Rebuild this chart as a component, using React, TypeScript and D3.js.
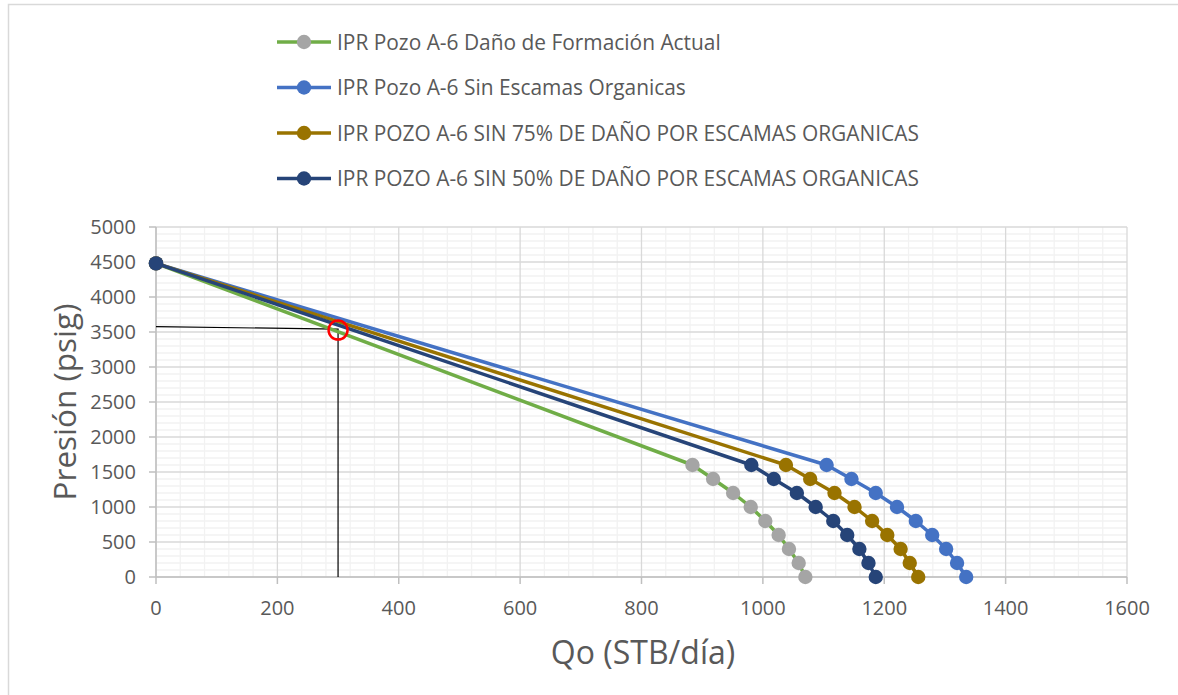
import React from "react";
import * as d3 from "d3";

// ---- data ----
const pressures = [4480, 1600, 1400, 1200, 1000, 800, 600, 400, 200, 0];
const qActual = [0, 884, 918, 951, 980, 1004, 1026, 1043, 1059, 1070];
const qSinEscamas = [0, 1105, 1146, 1186, 1221, 1252, 1279, 1302, 1320, 1335];
const qSin75 = [0, 1038, 1078, 1118, 1151, 1180, 1205, 1227, 1242, 1256];
const qSin50 = [0, 981, 1018, 1056, 1087, 1116, 1139, 1159, 1174, 1186];

const seriesNames = [
  "IPR Pozo A-6 Daño de Formación Actual",
  "IPR Pozo A-6 Sin Escamas Organicas",
  "IPR POZO A-6 SIN 75% DE DAÑO POR ESCAMAS ORGANICAS",
  "IPR POZO A-6 SIN 50% DE DAÑO POR ESCAMAS ORGANICAS",
];
const seriesQ = [qActual, qSinEscamas, qSin75, qSin50];
const lineColors = ["#70ad47", "#4472c4", "#997300", "#264478"];
const markerColors = ["#a5a5a5", "#4472c4", "#997300", "#264478"];

const xTicks = [0, 200, 400, 600, 800, 1000, 1200, 1400, 1600];
const yTicks = [0, 500, 1000, 1500, 2000, 2500, 3000, 3500, 4000, 4500, 5000];

// annotation: operating point
const refLineStart = [0, 3576];
const refPoint = [300, 3542];

const xLabel = "Qo (STB/día)";
const yLabel = "Presión (psig)";

export default function App() {
  const W = 1178;
  const H = 695;
  const left = 156;
  const right = 1127;
  const top = 227;
  const bottom = 577;
  const x = d3.scaleLinear().domain([0, 1600]).range([left, right]);
  const y = d3.scaleLinear().domain([0, 5000]).range([bottom, top]);
  const font = "'Open Sans', sans-serif";
  const textColor = "#595959";

  const xMinor = d3.range(0, 1600 + 1, 40).filter((v) => v % 200 !== 0);
  const yMinor = d3.range(0, 5000 + 1, 100).filter((v) => v % 500 !== 0);

  const line = d3
    .line<[number, number]>()
    .x((d) => x(d[0]))
    .y((d) => y(d[1]));

  return (
    <svg
      width={W}
      height={H}
      style={{ position: "absolute", left: 0, top: 0, background: "#fff" }}
      fontFamily={font}
    >
      <rect x={0} y={0} width={W} height={H} fill="#fff" />
      {/* chart border */}
      <path d={`M8.5,${H + 5} L8.5,4.5 L${W + 5},4.5`} fill="none" stroke="#d9d9d9" strokeWidth={1.5} />

      {/* minor gridlines */}
      {xMinor.map((v) => (
        <line key={"xm" + v} x1={x(v)} x2={x(v)} y1={top} y2={bottom} stroke="#f2f2f2" strokeWidth={1.3} />
      ))}
      {yMinor.map((v) => (
        <line key={"ym" + v} x1={left} x2={right} y1={y(v)} y2={y(v)} stroke="#f2f2f2" strokeWidth={1.3} />
      ))}
      {/* major gridlines */}
      {xTicks.map((v) => (
        <line key={"xM" + v} x1={x(v)} x2={x(v)} y1={top} y2={bottom} stroke="#d9d9d9" strokeWidth={1.3} />
      ))}
      {yTicks.map((v) => (
        <line key={"yM" + v} x1={left} x2={right} y1={y(v)} y2={y(v)} stroke="#d9d9d9" strokeWidth={1.3} />
      ))}

      {/* axes */}
      <line x1={left} x2={right} y1={bottom} y2={bottom} stroke="#bfbfbf" strokeWidth={1.5} />
      <line x1={left} x2={left} y1={top} y2={bottom} stroke="#bfbfbf" strokeWidth={1.5} />
      {xTicks.map((v) => (
        <line key={"xt" + v} x1={x(v)} x2={x(v)} y1={bottom} y2={bottom + 7} stroke="#bfbfbf" strokeWidth={1.5} />
      ))}
      {yTicks.map((v) => (
        <line key={"yt" + v} x1={left - 7} x2={left} y1={y(v)} y2={y(v)} stroke="#bfbfbf" strokeWidth={1.5} />
      ))}

      {/* tick labels */}
      {xTicks.map((v) => (
        <text key={"xl" + v} x={x(v)} y={bottom + 38} textAnchor="middle" fontSize={20} fill={textColor}>
          {v}
        </text>
      ))}
      {yTicks.map((v) => (
        <text key={"yl" + v} x={left - 20} y={y(v) + 7} textAnchor="end" fontSize={20} fill={textColor}>
          {v}
        </text>
      ))}

      {/* axis titles */}
      <text x={643} y={664} textAnchor="middle" fontSize={32} fill={textColor}>
        {xLabel}
      </text>
      <text
        transform={`translate(76, 402) rotate(-90)`}
        textAnchor="middle"
        fontSize={31.5}
        fill={textColor}
      >
        {yLabel}
      </text>

      {/* annotation lines */}
      <path
        d={`M${x(refLineStart[0])},${y(refLineStart[1])} L${x(refPoint[0])},${y(refPoint[1])} L${x(refPoint[0])},${y(0)}`}
        fill="none"
        stroke="#000"
        strokeWidth={1.2}
      />

      {/* series */}
      {seriesQ.map((qs, i) => {
        const pts: [number, number][] = qs.map((q, j) => [q, pressures[j]]);
        return (
          <g key={"s" + i}>
            <path d={line(pts) || ""} fill="none" stroke={lineColors[i]} strokeWidth={3.5} strokeLinejoin="round" />
            {pts.map((p, j) => (
              <circle key={j} cx={x(p[0])} cy={y(p[1])} r={7.2} fill={markerColors[i]} />
            ))}
          </g>
        );
      })}

      {/* red circle marking the operating point */}
      <circle cx={x(refPoint[0])} cy={y(refPoint[1]) + 1} r={9.5} fill="none" stroke="#ff0000" strokeWidth={2.5} />

      {/* legend */}
      {seriesNames.map((name, i) => {
        const ly = 42 + i * 45.5;
        return (
          <g key={"lg" + i}>
            <line x1={277} x2={331} y1={ly} y2={ly} stroke={lineColors[i]} strokeWidth={3.5} />
            <circle cx={304} cy={ly} r={7.2} fill={markerColors[i]} />
            <text x={337} y={ly + 7.5} fontSize={20.9} fill={textColor}>
              {name}
            </text>
          </g>
        );
      })}
    </svg>
  );
}
